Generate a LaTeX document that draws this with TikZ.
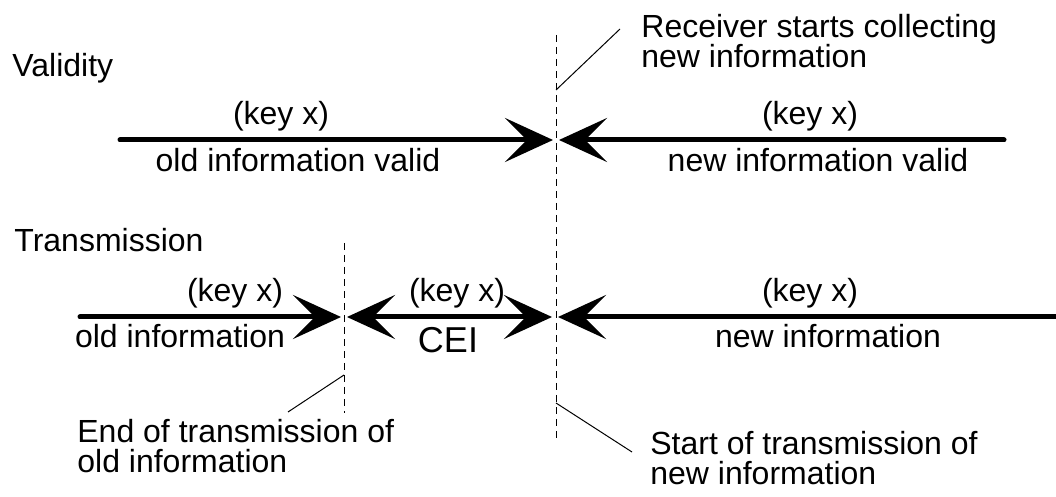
\documentclass[tikz,border=0pt]{standalone}
\usepackage{fontspec}
\setmainfont{Liberation Sans}
\usetikzlibrary{arrows.meta}
\begin{document}
\begin{tikzpicture}[x=0.5pt,y=-0.5pt,
  txt/.style={inner sep=0pt, font=\fontsize{16pt}{15pt}\selectfont},
  bigtxt/.style={inner sep=0pt, font=\fontsize{18pt}{18pt}\selectfont},
  note/.style={txt, align=left, anchor=base west},
  period/.style={line width=2.5pt, line cap=round,
    -{Stealth[length=24pt, width=22pt, inset=11pt]}},
  twoway/.style={line width=2.5pt,
    {Stealth[length=24pt, width=22pt, inset=11pt]}-{Stealth[length=24pt, width=22pt, inset=11pt]}},
  marker/.style={line width=0.5pt, dash pattern=on 3.5pt off 2.5pt},
  leader/.style={line width=0.5pt}]
\useasboundingbox (0,0) rectangle (1056,497);

% row headings
\node[txt, anchor=base west] (hval) at (12,77) {Validity};
\node[txt, anchor=base west] (htra) at (14,252) {Transmission};

% time markers
\coordinate (mtop) at (556,35);
\coordinate (mbot) at (556,442);
\coordinate (etop) at (344,243);
\coordinate (ebot) at (344,413);
\draw[marker] (mtop) -- (mbot);
\draw[marker] (etop) -- (ebot);

% validity row
\coordinate (v0) at (120,140);
\coordinate (v1) at (553,140);
\coordinate (v2) at (559,140);
\coordinate (v3) at (1004,140);
\draw[period] (v0) -- (v1);
\draw[period] (v3) -- (v2);
\node[txt, anchor=base] (vk1) at (281,125) {(key x)};
\node[txt, anchor=base] (vo) at (298,172) {old information valid};
\node[txt, anchor=base] (vk2) at (810,125) {(key x)};
\node[txt, anchor=base] (vn) at (818,172) {new information valid};

% transmission row
\coordinate (t0) at (80,317);
\coordinate (t1) at (341,317);
\coordinate (t2) at (347,317);
\coordinate (t3) at (552,317);
\coordinate (t4) at (558,317);
\coordinate (t5) at (1060,317);
\draw[period] (t0) -- (t1);
\draw[twoway] (t2) -- (t3);
\draw[period] (t5) -- (t4);
\node[txt, anchor=base] (tk1) at (235,302) {(key x)};
\node[txt, anchor=base] (to) at (180,348) {old information};
\node[txt, anchor=base] (tk2) at (457,302) {(key x)};
\node[bigtxt, anchor=base] (cei) at (448,353) {CEI};
\node[txt, anchor=base] (tk3) at (810,302) {(key x)};
\node[txt, anchor=base] (tn) at (828,348) {new information};

% annotations (base anchor sits on the last line)
\node[note] (rcv) at (641,68) {Receiver starts collecting\\new information};
\node[note] (eot) at (77,473) {End of transmission of\\old information};
\node[note] (sot) at (650,485) {Start of transmission of\\new information};
\coordinate (rcvA) at (620,29);
\coordinate (rcvB) at (556,90);
\coordinate (eotA) at (288,412);
\coordinate (eotB) at (344,375);
\coordinate (sotA) at (556,403);
\coordinate (sotB) at (632,452);
\draw[leader] (rcvA) -- (rcvB);
\draw[leader] (eotA) -- (eotB);
\draw[leader] (sotA) -- (sotB);
\end{tikzpicture}
\end{document}
